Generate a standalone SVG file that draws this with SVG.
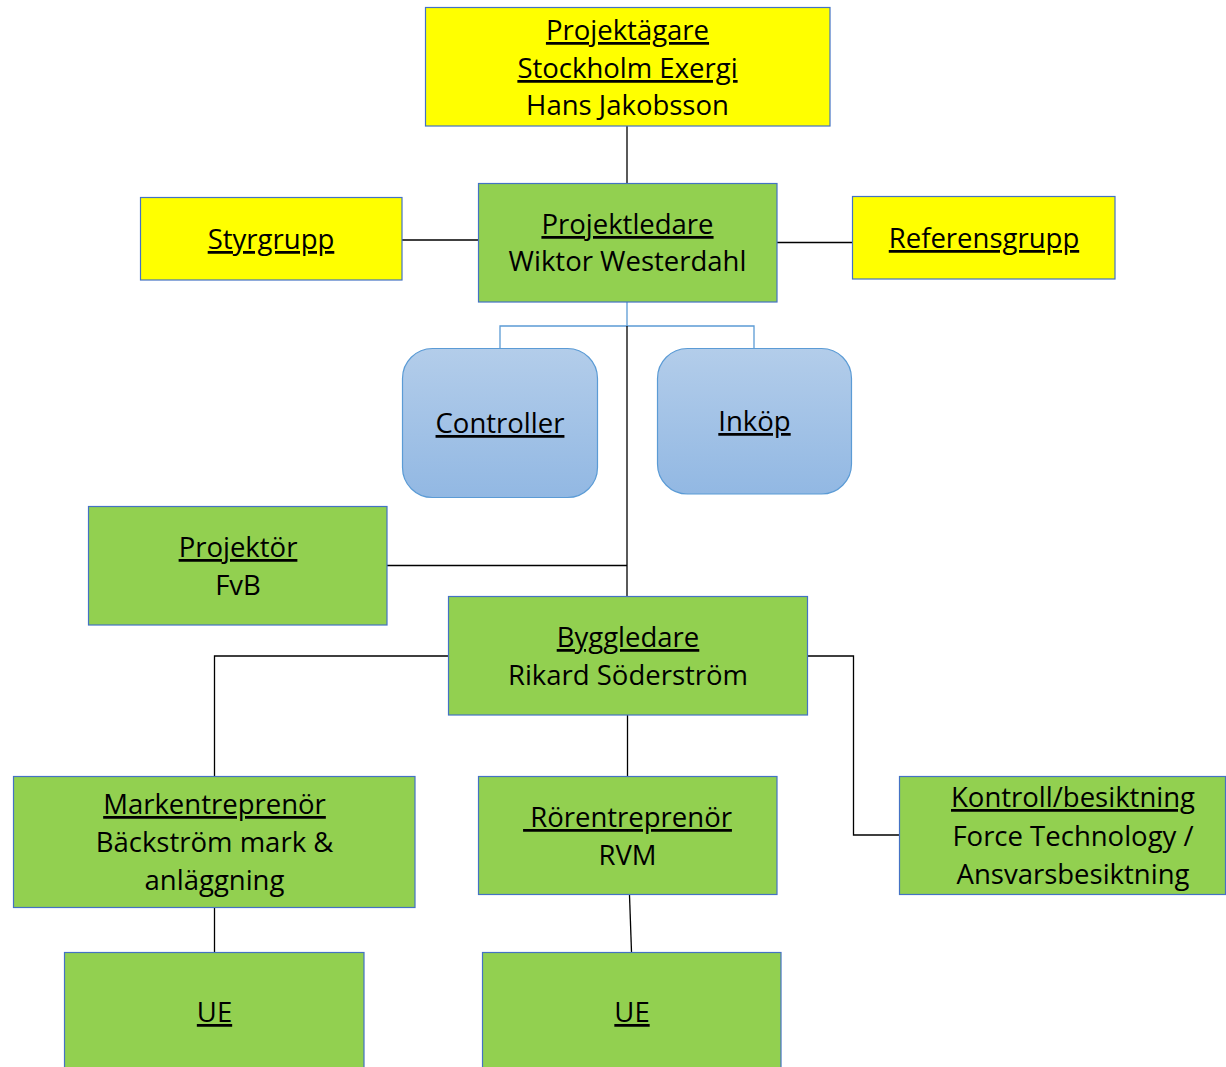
<svg xmlns="http://www.w3.org/2000/svg" width="1226" height="1067" viewBox="0 0 1226 1067">
<style>
text{font-family:"Open Sans","Liberation Sans",sans-serif;font-size:27.5px;fill:#000;text-anchor:middle}
.u{text-decoration:underline}
.y{fill:#FFFF00;stroke:#4472C4;stroke-width:1.2}
.g{fill:#92D050;stroke:#4472C4;stroke-width:1.2}
.r{fill:url(#bg);stroke:#5B9BD5;stroke-width:1.2}
.k{fill:none;stroke:#000;stroke-width:1.3}
.b{fill:none;stroke:#5B9BD5;stroke-width:1.3}
</style>
<defs>
<linearGradient id="bg" x1="0" y1="0" x2="0" y2="1">
<stop offset="0" stop-color="#B3CDEA"/>
<stop offset="1" stop-color="#92B8E3"/>
</linearGradient>
</defs>
<rect width="1226" height="1067" fill="#fff"/>
<g id="connectors">
<path class="k" d="M627 126V183"/>
<path class="k" d="M402 240H478"/>
<path class="k" d="M777 242.5H852"/>
<path class="b" d="M627 302V326M500 348V326H754V348"/>
<path class="k" d="M627 326V596"/>
<path class="k" d="M387 565.5H627"/>
<path class="k" d="M448 656H214.5V776"/>
<path class="k" d="M808 656H853.5V835H899"/>
<path class="k" d="M627.5 715V776"/>
<path class="k" d="M214.5 908V952"/>
<path class="k" d="M629.5 895L631.5 952"/>
</g>
<g id="projektagare">
<rect class="y" x="425.5" y="7.5" width="404.5" height="118.5"/>
<text x="627.5" y="40" class="u">Projektägare</text>
<text x="627.5" y="78" class="u">Stockholm Exergi</text>
<text x="627.5" y="115">Hans Jakobsson</text>
</g>
<g id="styrgrupp">
<rect class="y" x="140.5" y="197.5" width="261.5" height="82.5"/>
<text x="271" y="249" class="u">Styrgrupp</text>
</g>
<g id="projektledare">
<rect class="g" x="478.5" y="183.5" width="298.5" height="118.5"/>
<text x="627.5" y="234" class="u">Projektledare</text>
<text x="627.5" y="271">Wiktor Westerdahl</text>
</g>
<g id="referensgrupp">
<rect class="y" x="852.5" y="196.5" width="262.5" height="82.5"/>
<text x="984" y="248" class="u">Referensgrupp</text>
</g>
<g id="controller">
<rect class="r" x="402.5" y="348.5" width="195" height="149" rx="30"/>
<text x="500" y="433" class="u">Controller</text>
</g>
<g id="inkop">
<rect class="r" x="657.5" y="348.5" width="194" height="145.5" rx="30"/>
<text x="754.5" y="431" class="u">Inköp</text>
</g>
<g id="projektor">
<rect class="g" x="88.5" y="506.5" width="298.5" height="118.5"/>
<text x="238" y="557" class="u">Projektör</text>
<text x="238" y="595">FvB</text>
</g>
<g id="byggledare">
<rect class="g" x="448.5" y="596.5" width="359" height="118.5"/>
<text x="628" y="647" class="u">Byggledare</text>
<text x="628" y="685">Rikard Söderström</text>
</g>
<g id="markentreprenor">
<rect class="g" x="13.5" y="776.5" width="401.5" height="131"/>
<text x="214.5" y="814" class="u">Markentreprenör</text>
<text x="214.5" y="852">Bäckström mark &amp;</text>
<text x="214.5" y="890">anläggning</text>
</g>
<g id="rorentreprenor">
<rect class="g" x="478.5" y="776.5" width="298.5" height="118"/>
<text x="627.5" y="827" class="u" xml:space="preserve"> Rörentreprenör</text>
<text x="627.5" y="865">RVM</text>
</g>
<g id="kontroll">
<rect class="g" x="899.5" y="776.5" width="326" height="118"/>
<text x="1073" y="807" class="u">Kontroll/besiktning</text>
<text x="1073" y="846">Force Technology /</text>
<text x="1073" y="884">Ansvarsbesiktning</text>
</g>
<g id="ue1">
<rect class="g" x="64.5" y="952.5" width="299.5" height="120"/>
<text x="214.5" y="1022" class="u">UE</text>
</g>
<g id="ue2">
<rect class="g" x="482.5" y="952.5" width="298.5" height="120"/>
<text x="632" y="1022" class="u">UE</text>
</g>
</svg>
